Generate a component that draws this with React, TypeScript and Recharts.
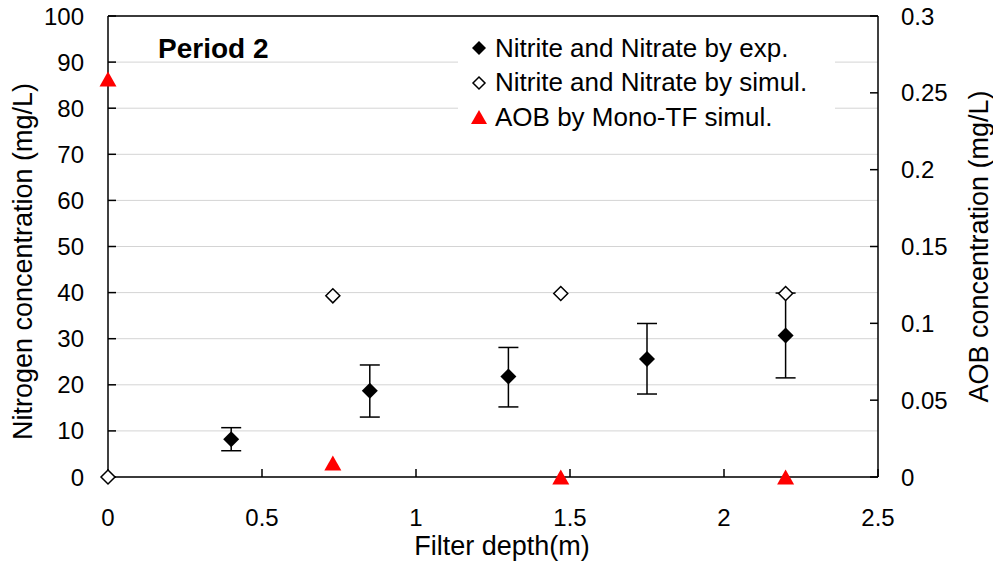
import {
  ScatterChart,
  Scatter,
  XAxis,
  YAxis,
  CartesianGrid,
  ErrorBar,
  Legend,
  Label,
  ReferenceLine,
} from "recharts";

const FONT = "'Liberation Sans', Arial, sans-serif";

// measured data (Period 2)
const depthExp = [0.4, 0.85, 1.3, 1.75, 2.2];
const nitrogenExp = [8.2, 18.7, 21.8, 25.6, 30.7];
const errLow = [2.5, 5.7, 6.6, 7.6, 9.2];
const errHigh = [2.5, 5.6, 6.3, 7.7, 9.2];

const depthSim = [0, 0.73, 1.47, 2.2];
const nitrogenSim = [0, 39.3, 39.8, 39.8];

const depthAob = [0, 0.73, 1.47, 2.2];
const aobSim = [0.259, 0.0091, 0, 0];

const xTicks = [0, 0.5, 1, 1.5, 2, 2.5];
const leftTicks = [0, 10, 20, 30, 40, 50, 60, 70, 80, 90, 100];
const rightTicks = [0, 0.05, 0.1, 0.15, 0.2, 0.25, 0.3];

const legendItems = [
  { name: "Nitrite and Nitrate by exp.", shape: "filled" },
  { name: "Nitrite and Nitrate by simul.", shape: "open" },
  { name: "AOB by Mono-TF simul.", shape: "triangle" },
];

const expData = depthExp.map((x, i) => ({
  x,
  y: nitrogenExp[i],
  err: [errLow[i], errHigh[i]],
}));
const simData = depthSim.map((x, i) => ({ x, y: nitrogenSim[i] }));
const aobData = depthAob.map((x, i) => ({ x, y: aobSim[i] }));

function diamondPoints(cx: number, cy: number, r: number) {
  return `${cx},${cy - r} ${cx + r},${cy} ${cx},${cy + r} ${cx - r},${cy}`;
}

function trianglePoints(cx: number, cy: number, w: number, h: number) {
  return `${cx},${cy - h / 2} ${cx + w / 2},${cy + h / 2} ${cx - w / 2},${cy + h / 2}`;
}

const FilledDiamond = (p: any) => (
  <polygon points={diamondPoints(p.cx, p.cy, 8)} fill="#000" />
);
const OpenDiamond = (p: any) => (
  <polygon
    points={diamondPoints(p.cx, p.cy, 7)}
    fill="#fff"
    stroke="#000"
    strokeWidth={1.5}
  />
);
const RedTriangle = (p: any) => (
  <polygon points={trianglePoints(p.cx, p.cy, 17, 15)} fill="#ff0000" />
);

function LegendIcon({ shape }: { shape: string }) {
  return (
    <svg width={20} height={20} style={{ display: "block" }}>
      {shape === "filled" && <polygon points={diamondPoints(10, 10, 7)} fill="#000" />}
      {shape === "open" && (
        <polygon
          points={diamondPoints(10, 10, 6)}
          fill="#fff"
          stroke="#000"
          strokeWidth={1.5}
        />
      )}
      {shape === "triangle" && (
        <polygon points={trianglePoints(10, 10, 16, 14)} fill="#ff0000" />
      )}
    </svg>
  );
}

function LegendBox() {
  return (
    <div
      style={{
        background: "#fff",
        width: 377,
        height: 108,
        paddingTop: 3,
        boxSizing: "border-box",
        fontFamily: FONT,
        fontSize: 26,
        color: "#000",
      }}
    >
      {legendItems.map((item) => (
        <div
          key={item.name}
          style={{ display: "flex", alignItems: "center", height: 34.5 }}
        >
          <div style={{ marginLeft: 11 }}>
            <LegendIcon shape={item.shape} />
          </div>
          <span style={{ marginLeft: 6, whiteSpace: "nowrap" }}>{item.name}</span>
        </div>
      ))}
    </div>
  );
}

const tickStyle = { fill: "#000", fontSize: 24, fontFamily: FONT };
const titleStyle = { fill: "#000", fontSize: 27, fontFamily: FONT };

export default function App() {
  return (
    <div
      style={{
        position: "absolute",
        left: 0,
        top: 0,
        width: 993,
        height: 568,
        background: "#fff",
      }}
    >
      <ScatterChart
        width={993}
        height={568}
        margin={{ top: 16, right: 35, bottom: 41, left: 48 }}
      >
        <CartesianGrid
          yAxisId="left"
          vertical={false}
          stroke="#d4d4d4"
          strokeWidth={1}
        />
        <XAxis
          type="number"
          dataKey="x"
          domain={[0, 2.5]}
          ticks={xTicks}
          height={50}
          tick={tickStyle}
          tickSize={-8}
          tickMargin={40}
          axisLine={{ stroke: "#000", strokeWidth: 1.5 }}
          tickLine={{ stroke: "#000", strokeWidth: 1.5 }}
        >
          <Label
            value="Filter depth(m)"
            position="center"
            dx={9}
            dy={43}
            style={titleStyle}
          />
        </XAxis>
        <YAxis
          yAxisId="left"
          type="number"
          dataKey="y"
          domain={[0, 100]}
          ticks={leftTicks}
          width={60}
          tick={tickStyle}
          tickSize={-8}
          tickMargin={32}
          axisLine={{ stroke: "#000", strokeWidth: 1.5 }}
          tickLine={{ stroke: "#000", strokeWidth: 1.5 }}
        >
          <Label
            value="Nitrogen concentration (mg/L)"
            position="center"
            angle={-90}
            dx={-56}
            dy={15}
            style={titleStyle}
          />
        </YAxis>
        <YAxis
          yAxisId="right"
          orientation="right"
          type="number"
          dataKey="y"
          domain={[0, 0.3]}
          ticks={rightTicks}
          width={80}
          tick={tickStyle}
          tickSize={-8}
          tickMargin={31}
          axisLine={{ stroke: "#000", strokeWidth: 1.5 }}
          tickLine={{ stroke: "#000", strokeWidth: 1.5 }}
        >
          <Label
            value="AOB concentration (mg/L)"
            position="center"
            angle={-90}
            dx={60}
            dy={0}
            style={titleStyle}
          />
        </YAxis>
        <ReferenceLine yAxisId="left" y={100} stroke="#000" strokeWidth={1.5} />
        <Legend
          layout="vertical"
          align="center"
          verticalAlign="middle"
          wrapperStyle={{ left: 458, top: 28, width: 377, height: 108 }}
          content={() => <LegendBox />}
        />
        <Scatter
          yAxisId="left"
          data={expData}
          shape={FilledDiamond}
          isAnimationActive={false}
        >
          <ErrorBar
            dataKey="err"
            direction="y"
            width={10}
            stroke="#000"
            strokeWidth={1.5}
            isAnimationActive={false}
          />
        </Scatter>
        <Scatter
          yAxisId="left"
          data={simData}
          shape={OpenDiamond}
          isAnimationActive={false}
        />
        <Scatter
          yAxisId="right"
          data={aobData}
          shape={RedTriangle}
          isAnimationActive={false}
        />
        <text
          x={158}
          y={58}
          fontSize={28}
          fontWeight="bold"
          fontFamily={FONT}
          fill="#000"
        >
          Period 2
        </text>
      </ScatterChart>
    </div>
  );
}
